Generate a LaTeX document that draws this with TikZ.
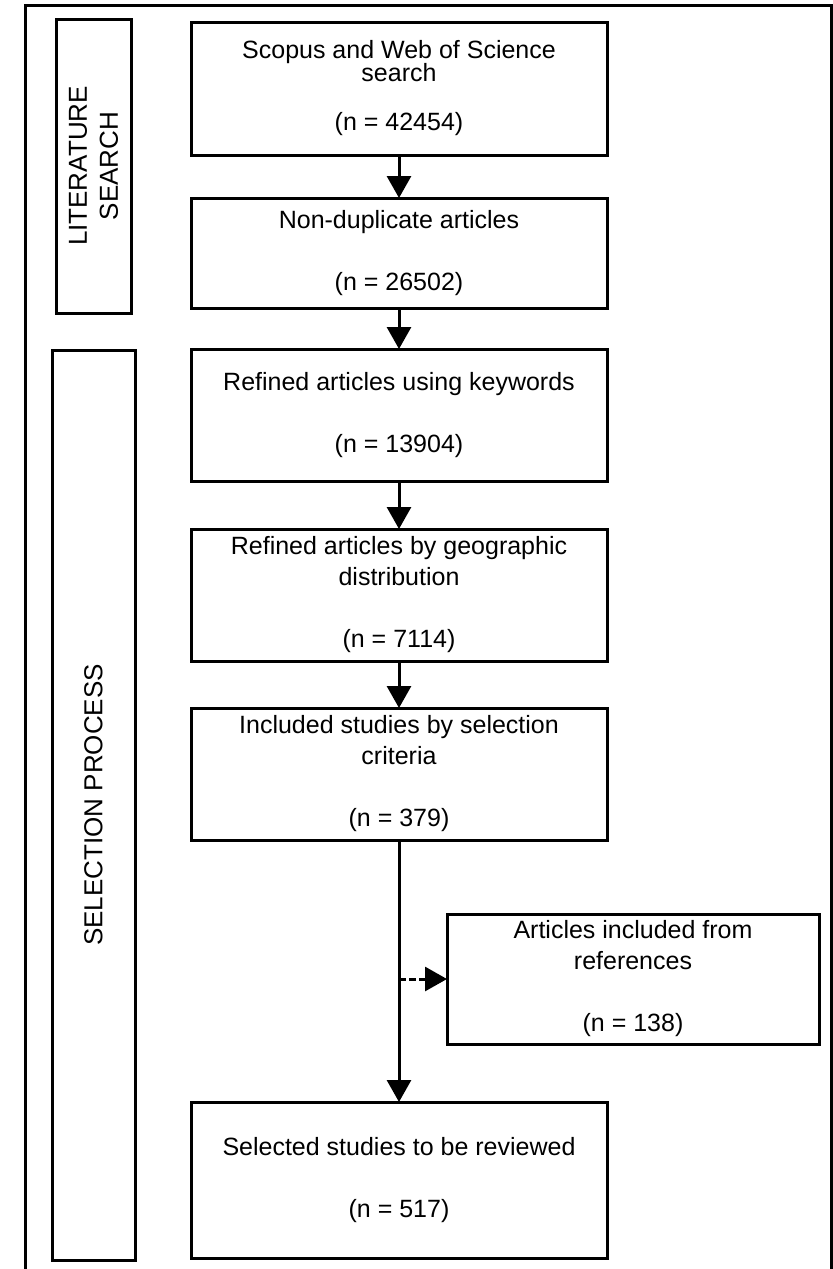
\documentclass[tikz,border=0pt]{standalone}
\usepackage{fontspec}
\setmainfont{Liberation Sans}
\usetikzlibrary{arrows.meta, positioning}

\begin{document}
\begin{tikzpicture}[x=0.5pt, y=-0.5pt,
    every node/.style={font=\fontsize{12.5}{15.5}\selectfont},
    stage/.style={draw, line width=1.5pt, outer sep=0pt, inner sep=2pt,
                  align=center, minimum width=208pt, minimum height=66pt},
    phase/.style={draw, line width=1.5pt, outer sep=0pt, inner sep=2pt,
                  align=center, rotate=90, font=\fontsize{13}{15.5}\selectfont},
    flow/.style={line width=1.5pt, -{Triangle[length=11pt, width=12pt]}}]
  \path[use as bounding box, fill=white] (0,0) rectangle (833,1269);
  % outer frame, open at the bottom
  \draw[line width=1.5pt] (25,1269) |- (831,5) -- (831,1269);

  % phases
  \node[phase, minimum width=147pt, minimum height=37.5pt] (litbox) at (93.5,166)
        {LITERATURE\\SEARCH};
  \node[phase, minimum width=455pt, minimum height=41.5pt] (selbox) at (93.5,805)
        {SELECTION PROCESS};

  % main column
  \node[stage, minimum height=66.5pt] (scopus) at (399,88.5)
        {Scopus and Web of Science\\[-4pt]search\\[9pt](n = 42454)};
  \node[stage, minimum height=55pt, below=21.5pt of scopus] (nondup)
        {Non-duplicate articles\\[15.5pt](n = 26502)};
  \node[stage, below=20.5pt of nondup] (keywords)
        {Refined articles using keywords\\[15.5pt](n = 13904)};
  \node[stage, below=24pt of keywords] (geo)
        {Refined articles by geographic\\distribution\\[15.5pt](n = 7114)};
  \node[stage, below=23.5pt of geo] (criteria)
        {Included studies by selection\\criteria\\[15.5pt](n = 379)};
  \node[stage, minimum height=78pt, below=131pt of criteria] (review)
        {Selected studies to be reviewed\\[15.5pt](n = 517)};
  \node[stage, minimum width=186pt, minimum height=65pt] (refs) at (633,979)
        {Articles included from\\references\\[15.5pt](n = 138)};

  \draw[flow] (scopus) -- (nondup);
  \draw[flow] (nondup) -- (keywords);
  \draw[flow] (keywords) -- (geo);
  \draw[flow] (geo) -- (criteria);
  \draw[flow] (criteria) -- (review);
  \coordinate (branch) at (criteria.south |- refs.west);
  \draw[flow, dash pattern=on 3.5pt off 1.5pt] (branch) -- (refs.west);
\end{tikzpicture}
\end{document}
